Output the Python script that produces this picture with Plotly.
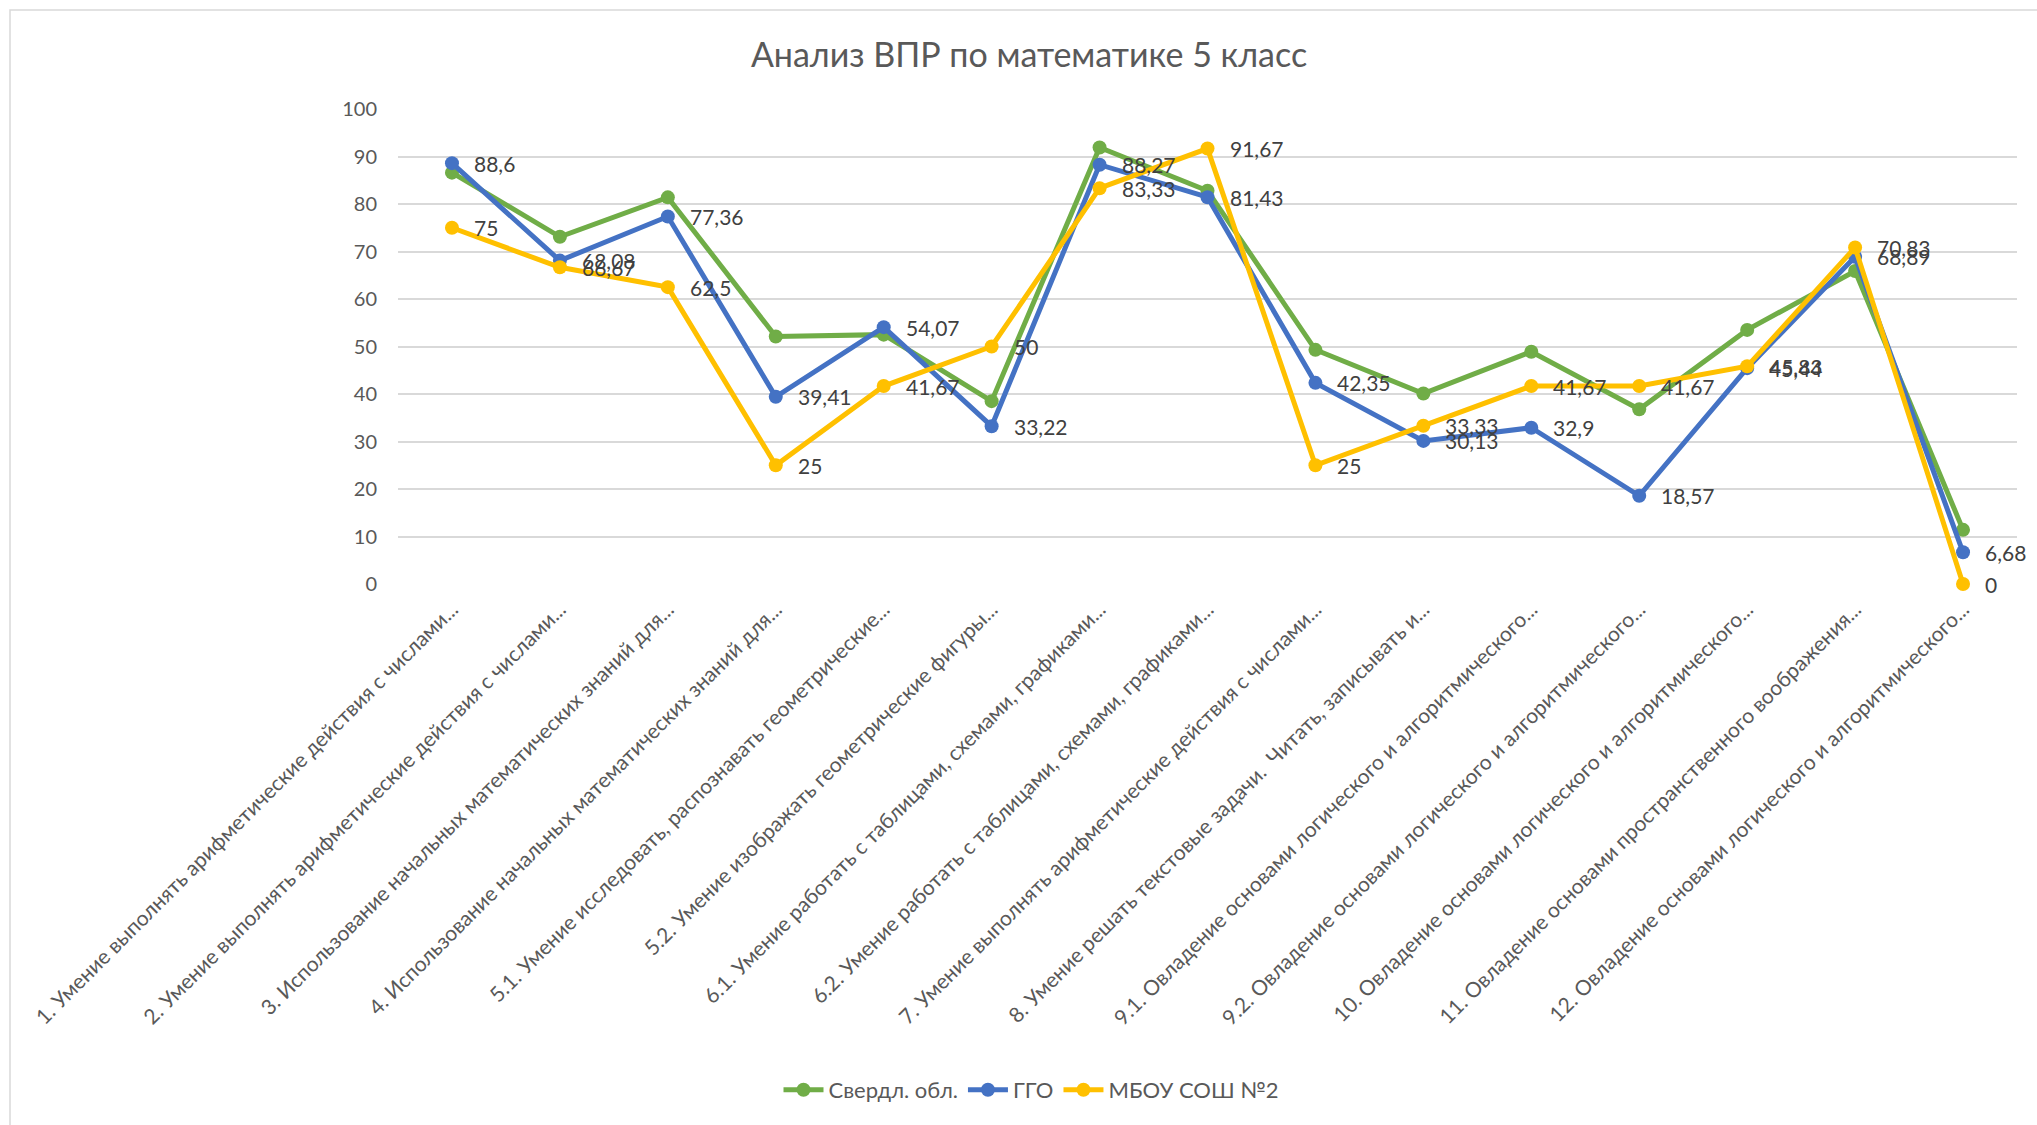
import plotly.graph_objects as go

categories = [
    "1. Умение выполнять арифметические действия с числами...",
    "2. Умение выполнять арифметические действия с числами...",
    "3. Использование начальных математических знаний для...",
    "4. Использование начальных математических знаний для...",
    "5.1. Умение исследовать, распознавать геометрические...",
    "5.2. Умение изображать геометрические фигуры...",
    "6.1. Умение работать с таблицами, схемами, графиками...",
    "6.2. Умение работать с таблицами, схемами, графиками...",
    "7. Умение выполнять арифметические действия с числами...",
    "8. Умение решать текстовые задачи.  Читать, записывать и...",
    "9.1. Овладение основами логического и алгоритмического...",
    "9.2. Овладение основами логического и алгоритмического...",
    "10. Овладение основами логического и алгоритмического...",
    "11. Овладение основами пространственного воображения...",
    "12. Овладение основами логического и алгоритмического...",
]

sverdl = [86.6, 73.1, 81.4, 52.1, 52.5, 38.5, 91.9, 82.8, 49.3, 40.1, 48.9, 36.8, 53.5, 65.9, 11.4]
ggo = [88.6, 68.08, 77.36, 39.41, 54.07, 33.22, 88.27, 81.43, 42.35, 30.13, 32.9, 18.57, 45.44, 68.89, 6.68]
school = [75, 66.67, 62.5, 25, 41.67, 50, 83.33, 91.67, 25, 33.33, 41.67, 41.67, 45.83, 70.83, 0]

series_names = ["Свердл. обл.", "ГГО", "МБОУ СОШ №2"]
colors = ["#70AD47", "#4472C4", "#FFC000"]
show_labels = [False, True, True]
y_ticks = list(range(0, 101, 10))

FONT = "Lato, Noto Sans, sans-serif"


def fmt(v):
    s = ("%.2f" % v).rstrip("0").rstrip(".")
    return s.replace(".", ",")


fig = go.Figure()
annotations = []
for name, vals, col, lab in zip(series_names, [sverdl, ggo, school], colors, show_labels):
    fig.add_trace(go.Scatter(
        x=categories, y=vals, name=name,
        mode="lines+markers",
        line=dict(color=col, width=5),
        marker=dict(color=col, size=14),
        cliponaxis=False,
    ))
    if lab:
        for c, v in zip(categories, vals):
            annotations.append(dict(
                x=c, y=v, xref="x", yref="y", text=fmt(v), showarrow=False,
                xanchor="left", yanchor="middle", xshift=20,
                font=dict(family=FONT, size=21, color="#404040"),
            ))

W, H = 2037, 1125
L, R, T, B = 398, 20, 109, 541
PW, PH = W - L - R, H - T - B

fig.update_layout(
    width=W, height=H,
    margin=dict(l=L, r=R, t=T, b=B, autoexpand=False),
    paper_bgcolor="white", plot_bgcolor="white",
    font=dict(family=FONT, color="#595959"),
    title=dict(text="Анализ ВПР по математике 5 класс", x=1029 / W, xanchor="center",
               y=1 - 55 / H, yanchor="middle", xref="container", yref="container",
               font=dict(size=34, color="#595959")),
    showlegend=True,
    legend=dict(orientation="h", x=(1031 - L) / PW, xanchor="center",
                y=(H - B - 1090) / PH, yanchor="middle",
                font=dict(size=22, color="#595959"), itemwidth=40,
                bgcolor="rgba(0,0,0,0)"),
    xaxis=dict(type="category", range=[-0.5, len(categories) - 0.5],
               tickangle=-45, tickfont=dict(size=21, color="#595959"),
               showgrid=False, showline=False, zeroline=False, ticks="",
               ticklabelstandoff=8),
    yaxis=dict(range=[0, 100], tickvals=y_ticks, showgrid=True, gridcolor="#D9D9D9",
               gridwidth=2, zeroline=False, showline=False, ticks="",
               tickfont=dict(size=20, color="#595959"), ticklabelstandoff=20),
    annotations=annotations,
    shapes=[dict(type="rect", xref="paper", yref="paper",
                 x0=(10 - L) / PW, x1=1.5,
                 y0=-2.0, y1=(H - B - 10) / PH,
                 line=dict(color="#D9D9D9", width=1.5), layer="below")],
)

fig.write_html("out.html", config={"displayModeBar": False},
               post_script="document.body.style.margin='0';")
